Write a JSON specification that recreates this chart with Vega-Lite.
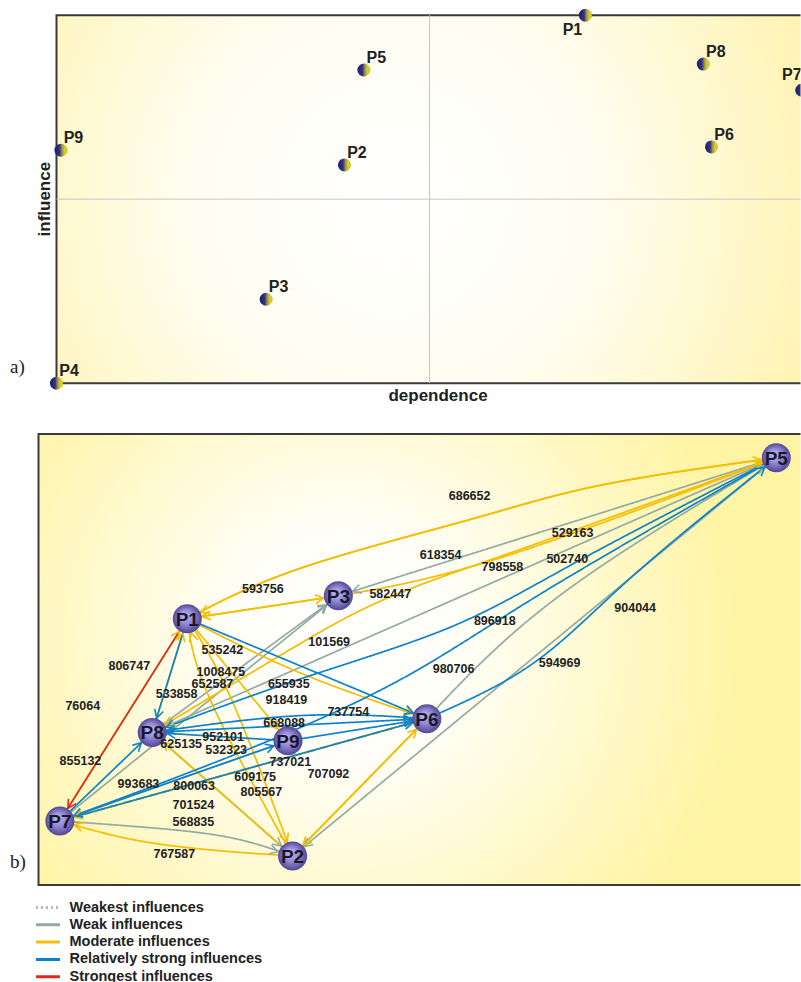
{
  "$schema": "https://vega.github.io/schema/vega-lite/v6.json",
  "background": "#ffffff",
  "padding": {"left": 9.5, "top": 8, "right": 0, "bottom": 0},
  "spacing": 28,
  "config": {"view": {"stroke": null}, "font": "Liberation Sans"},
  "resolve": {"scale": {"color": "independent", "strokeDash": "independent", "stroke": "independent"}},
  "datasets": {
    "nodesA": [
      {"id": "P1", "dep": 70.9, "inf": 100},
      {"id": "P2", "dep": 38.6, "inf": 59.3},
      {"id": "P3", "dep": 28.1, "inf": 22.8},
      {"id": "P4", "dep": 0, "inf": 0},
      {"id": "P5", "dep": 41.2, "inf": 85.1},
      {"id": "P6", "dep": 87.8, "inf": 64.2},
      {"id": "P7", "dep": 99.9, "inf": 79.6},
      {"id": "P8", "dep": 86.7, "inf": 86.7},
      {"id": "P9", "dep": 0.6, "inf": 63.3}
    ],
    "nodesB": [
      {"id": "P1", "x": 19.5, "y": 34.9},
      {"id": "P2", "x": 33.3, "y": 3.8},
      {"id": "P3", "x": 39.3, "y": 37.9},
      {"id": "P5", "x": 96.7, "y": 56.0},
      {"id": "P6", "x": 50.9, "y": 21.8},
      {"id": "P7", "x": 2.8, "y": 8.4},
      {"id": "P8", "x": 14.9, "y": 20.0},
      {"id": "P9", "x": 32.7, "y": 18.9}
    ],
    "edges": [
      {"e": "e1", "s": "P5", "t": "P3", "c": "Weak influences", "v": "618354", "lx": 52.7, "ly": 43.3},
      {"e": "e2", "s": "P5", "t": "P8", "c": "Weak influences", "v": "798558", "lx": 60.8, "ly": 41.7},
      {"e": "e3", "s": "P5", "t": "P2", "c": "Weak influences", "v": "594969", "lx": 68.3, "ly": 29.1},
      {"e": "e4", "s": "P6", "t": "P5", "c": "Weak influences", "v": "980706", "lx": 54.4, "ly": 28.3},
      {"e": "e5", "s": "P8", "t": "P3", "c": "Weak influences", "v": "1008475", "lx": 23.9, "ly": 27.9},
      {"e": "e6", "s": "P7", "t": "P3", "c": "Weak influences", "v": "652587", "lx": 22.8, "ly": 26.3},
      {"e": "e7", "s": "P8", "t": "P2", "c": "Weak influences", "v": "625135", "lx": 18.7, "ly": 18.5},
      {"e": "e8", "s": "P7", "t": "P2", "c": "Weak influences", "v": "568835", "lx": 20.3, "ly": 8.3},
      {"e": "e9", "s": "P9", "t": "P7", "c": "Weak influences"},
      {"e": "e11", "s": "P1", "t": "P5", "c": "Moderate influences", "v": "686652", "lx": 56.5, "ly": 51.0},
      {"e": "e12", "s": "P5", "t": "P1", "c": "Moderate influences"},
      {"e": "e13", "s": "P3", "t": "P5", "c": "Moderate influences", "v": "529163", "lx": 70.0, "ly": 46.1},
      {"e": "e14", "s": "P5", "t": "P8", "c": "Moderate influences", "v": "582447", "lx": 46.1, "ly": 38.1},
      {"e": "e15", "s": "P1", "t": "P3", "c": "Moderate influences", "v": "593756", "lx": 29.4, "ly": 38.8},
      {"e": "e16", "s": "P3", "t": "P1", "c": "Moderate influences", "v": "101569", "lx": 38.1, "ly": 31.8},
      {"e": "e17", "s": "P7", "t": "P1", "c": "Moderate influences", "v": "806747", "lx": 11.9, "ly": 28.7},
      {"e": "e18", "s": "P8", "t": "P1", "c": "Moderate influences", "v": "533858", "lx": 18.1, "ly": 25.0},
      {"e": "e20", "s": "P1", "t": "P6", "c": "Moderate influences", "v": "535242", "lx": 24.1, "ly": 30.8},
      {"e": "e21", "s": "P1", "t": "P9", "c": "Moderate influences", "v": "668088", "lx": 32.2, "ly": 21.2},
      {"e": "e22", "s": "P1", "t": "P2", "c": "Moderate influences", "v": "609175", "lx": 28.4, "ly": 14.2},
      {"e": "e23", "s": "P2", "t": "P1", "c": "Moderate influences", "v": "805567", "lx": 29.2, "ly": 12.2},
      {"e": "e24", "s": "P2", "t": "P8", "c": "Moderate influences", "v": "800063", "lx": 20.4, "ly": 13.0},
      {"e": "e25", "s": "P7", "t": "P6", "c": "Moderate influences", "v": "701524", "lx": 20.3, "ly": 10.5},
      {"e": "e26", "s": "P2", "t": "P6", "c": "Moderate influences", "v": "707092", "lx": 38.0, "ly": 14.5},
      {"e": "e27", "s": "P6", "t": "P2", "c": "Moderate influences"},
      {"e": "e28", "s": "P2", "t": "P7", "c": "Moderate influences", "v": "767587", "lx": 17.8, "ly": 4.1},
      {"e": "e29", "s": "P6", "t": "P7", "c": "Moderate influences"},
      {"e": "e30", "s": "P1", "t": "P8", "c": "Relatively strong influences"},
      {"e": "e31", "s": "P1", "t": "P6", "c": "Relatively strong influences", "v": "655935", "lx": 32.8, "ly": 26.3},
      {"e": "e34", "s": "P5", "t": "P8", "c": "Relatively strong influences", "v": "502740", "lx": 69.3, "ly": 42.7},
      {"e": "e35", "s": "P5", "t": "P7", "c": "Relatively strong influences", "v": "896918", "lx": 59.8, "ly": 34.6},
      {"e": "e36", "s": "P6", "t": "P5", "c": "Relatively strong influences", "v": "904044", "lx": 78.2, "ly": 36.3},
      {"e": "e37", "s": "P6", "t": "P8", "c": "Relatively strong influences", "v": "737754", "lx": 40.6, "ly": 22.7},
      {"e": "e38", "s": "P9", "t": "P8", "c": "Relatively strong influences", "v": "952101", "lx": 24.2, "ly": 19.4},
      {"e": "e39", "s": "P8", "t": "P6", "c": "Relatively strong influences", "v": "918419", "lx": 32.5, "ly": 24.2},
      {"e": "e40", "s": "P9", "t": "P6", "c": "Relatively strong influences", "v": "737021", "lx": 33.0, "ly": 16.1},
      {"e": "e41", "s": "P7", "t": "P6", "c": "Relatively strong influences", "v": "993683", "lx": 13.1, "ly": 13.2},
      {"e": "e42", "s": "P7", "t": "P9", "c": "Relatively strong influences", "v": "532323", "lx": 24.6, "ly": 17.7},
      {"e": "e43", "s": "P7", "t": "P8", "c": "Relatively strong influences", "v": "855132", "lx": 5.5, "ly": 16.3},
      {"e": "e44", "s": "P1", "t": "P7", "c": "Strongest influences", "v": "76064", "lx": 5.8, "ly": 23.5}
    ],
    "paths": [
      {"e": "e1", "o": 0, "x": 96.7, "y": 56.0}, {"e": "e1", "o": 1, "x": 39.3, "y": 37.9},
      {"e": "e2", "o": 0, "x": 96.7, "y": 56.0}, {"e": "e2", "o": 1, "x": 14.9, "y": 20.0},
      {"e": "e3", "o": 0, "x": 96.7, "y": 56.0}, {"e": "e3", "o": 1, "x": 33.3, "y": 3.8},
      {"e": "e4", "o": 0, "x": 50.9, "y": 21.8}, {"e": "e4", "o": 1, "x": 68.4, "y": 38.0}, {"e": "e4", "o": 2, "x": 96.7, "y": 56.0},
      {"e": "e5", "o": 0, "x": 14.9, "y": 20.0}, {"e": "e5", "o": 1, "x": 39.3, "y": 37.9},
      {"e": "e6", "o": 0, "x": 2.8, "y": 8.4}, {"e": "e6", "o": 1, "x": 39.3, "y": 37.9},
      {"e": "e7", "o": 0, "x": 14.9, "y": 20.0}, {"e": "e7", "o": 1, "x": 33.3, "y": 3.8},
      {"e": "e8", "o": 0, "x": 2.8, "y": 8.4}, {"e": "e8", "o": 1, "x": 14.7, "y": 7.5}, {"e": "e8", "o": 2, "x": 25.2, "y": 6.2}, {"e": "e8", "o": 3, "x": 33.3, "y": 3.8},
      {"e": "e9", "o": 0, "x": 32.7, "y": 18.9}, {"e": "e9", "o": 1, "x": 2.8, "y": 8.4},
      {"e": "e11", "o": 0, "x": 19.5, "y": 34.9}, {"e": "e11", "o": 1, "x": 34.3, "y": 41.5}, {"e": "e11", "o": 2, "x": 56.2, "y": 47.8}, {"e": "e11", "o": 3, "x": 73.7, "y": 52.4}, {"e": "e11", "o": 4, "x": 96.7, "y": 56.0},
      {"e": "e12", "o": 0, "x": 96.7, "y": 56.0}, {"e": "e12", "o": 1, "x": 73.7, "y": 52.4}, {"e": "e12", "o": 2, "x": 56.2, "y": 47.8}, {"e": "e12", "o": 3, "x": 34.3, "y": 41.5}, {"e": "e12", "o": 4, "x": 19.5, "y": 34.9},
      {"e": "e13", "o": 0, "x": 39.3, "y": 37.9}, {"e": "e13", "o": 1, "x": 60.6, "y": 42.9}, {"e": "e13", "o": 2, "x": 96.7, "y": 56.0},
      {"e": "e14", "o": 0, "x": 96.7, "y": 56.0}, {"e": "e14", "o": 1, "x": 75.0, "y": 48.2}, {"e": "e14", "o": 2, "x": 59.2, "y": 42.6}, {"e": "e14", "o": 3, "x": 44.8, "y": 37.2}, {"e": "e14", "o": 4, "x": 31.7, "y": 30.1}, {"e": "e14", "o": 5, "x": 14.9, "y": 20.0},
      {"e": "e15", "o": 0, "x": 19.5, "y": 34.9}, {"e": "e15", "o": 1, "x": 39.3, "y": 37.9},
      {"e": "e16", "o": 0, "x": 39.3, "y": 37.9}, {"e": "e16", "o": 1, "x": 19.5, "y": 34.9},
      {"e": "e17", "o": 0, "x": 2.8, "y": 8.4}, {"e": "e17", "o": 1, "x": 19.5, "y": 34.9},
      {"e": "e18", "o": 0, "x": 14.9, "y": 20.0}, {"e": "e18", "o": 1, "x": 19.5, "y": 34.9},
      {"e": "e20", "o": 0, "x": 19.5, "y": 34.9}, {"e": "e20", "o": 1, "x": 34.3, "y": 27.8}, {"e": "e20", "o": 2, "x": 50.9, "y": 21.8},
      {"e": "e21", "o": 0, "x": 19.5, "y": 34.9}, {"e": "e21", "o": 1, "x": 32.7, "y": 18.9},
      {"e": "e22", "o": 0, "x": 19.5, "y": 34.9}, {"e": "e22", "o": 1, "x": 25.3, "y": 24.3}, {"e": "e22", "o": 2, "x": 33.3, "y": 3.8},
      {"e": "e23", "o": 0, "x": 33.3, "y": 3.8}, {"e": "e23", "o": 1, "x": 22.5, "y": 24.3}, {"e": "e23", "o": 2, "x": 19.5, "y": 34.9},
      {"e": "e24", "o": 0, "x": 33.3, "y": 3.8}, {"e": "e24", "o": 1, "x": 14.9, "y": 20.0},
      {"e": "e25", "o": 0, "x": 2.8, "y": 8.4}, {"e": "e25", "o": 1, "x": 50.9, "y": 21.8},
      {"e": "e26", "o": 0, "x": 33.3, "y": 3.8}, {"e": "e26", "o": 1, "x": 50.9, "y": 21.8},
      {"e": "e27", "o": 0, "x": 50.9, "y": 21.8}, {"e": "e27", "o": 1, "x": 33.3, "y": 3.8},
      {"e": "e28", "o": 0, "x": 33.3, "y": 3.8}, {"e": "e28", "o": 1, "x": 22.5, "y": 4.6}, {"e": "e28", "o": 2, "x": 12.1, "y": 6.0}, {"e": "e28", "o": 3, "x": 2.8, "y": 8.4},
      {"e": "e29", "o": 0, "x": 50.9, "y": 21.8}, {"e": "e29", "o": 1, "x": 2.8, "y": 8.4},
      {"e": "e30", "o": 0, "x": 19.5, "y": 34.9}, {"e": "e30", "o": 1, "x": 14.9, "y": 20.0},
      {"e": "e31", "o": 0, "x": 19.5, "y": 34.9}, {"e": "e31", "o": 1, "x": 50.9, "y": 21.8},
      {"e": "e34", "o": 0, "x": 96.7, "y": 56.0}, {"e": "e34", "o": 1, "x": 71.0, "y": 42.6}, {"e": "e34", "o": 2, "x": 54.0, "y": 33.8}, {"e": "e34", "o": 3, "x": 34.3, "y": 27.0}, {"e": "e34", "o": 4, "x": 14.9, "y": 20.0},
      {"e": "e35", "o": 0, "x": 96.7, "y": 56.0}, {"e": "e35", "o": 1, "x": 66.7, "y": 38.7}, {"e": "e35", "o": 2, "x": 47.4, "y": 26.9}, {"e": "e35", "o": 3, "x": 26.5, "y": 17.4}, {"e": "e35", "o": 4, "x": 2.8, "y": 8.4},
      {"e": "e36", "o": 0, "x": 50.9, "y": 21.8}, {"e": "e36", "o": 1, "x": 64.9, "y": 29.1}, {"e": "e36", "o": 2, "x": 78.0, "y": 40.6}, {"e": "e36", "o": 3, "x": 96.7, "y": 56.0},
      {"e": "e37", "o": 0, "x": 50.9, "y": 21.8}, {"e": "e37", "o": 1, "x": 34.3, "y": 22.2}, {"e": "e37", "o": 2, "x": 14.9, "y": 20.0},
      {"e": "e38", "o": 0, "x": 32.7, "y": 18.9}, {"e": "e38", "o": 1, "x": 14.9, "y": 20.0},
      {"e": "e39", "o": 0, "x": 14.9, "y": 20.0}, {"e": "e39", "o": 1, "x": 50.9, "y": 21.8},
      {"e": "e40", "o": 0, "x": 32.7, "y": 18.9}, {"e": "e40", "o": 1, "x": 50.9, "y": 21.8},
      {"e": "e41", "o": 0, "x": 2.8, "y": 8.4}, {"e": "e41", "o": 1, "x": 50.9, "y": 21.8},
      {"e": "e42", "o": 0, "x": 2.8, "y": 8.4}, {"e": "e42", "o": 1, "x": 32.7, "y": 18.9},
      {"e": "e43", "o": 0, "x": 2.8, "y": 8.4}, {"e": "e43", "o": 1, "x": 14.9, "y": 20.0},
      {"e": "e44", "o": 0, "x": 19.5, "y": 34.9}, {"e": "e44", "o": 1, "x": 2.8, "y": 8.4}
    ]
  },
  "vconcat": [
    {
      "width": 764,
      "height": 372,
      "layer": [
        {
          "data": {"values": [{}]},
          "mark": {
            "type": "rect", "clip": true, "stroke": "#3a3a3a", "strokeWidth": 2,
            "fill": {"gradient": "radial", "x1": 0.45, "y1": 0.5, "r1": 0, "x2": 0.45, "y2": 0.5, "r2": 0.62,
              "stops": [{"offset": 0, "color": "#ffffff"}, {"offset": 0.45, "color": "#fffdf0"}, {"offset": 1, "color": "#fff3ad"}]}
          },
          "encoding": {
            "x": {"datum": 0, "type": "quantitative", "scale": {"domain": [-2.681, 99.732], "nice": false, "zero": false}, "axis": null},
            "x2": {"datum": 100.4},
            "y": {"datum": 0, "type": "quantitative", "scale": {"domain": [-0.5, 100.587], "nice": false, "zero": false}, "axis": null},
            "y2": {"datum": 100}
          }
        },
        {
          "data": {"values": [{}]},
          "mark": {"type": "rule", "color": "#c6c6c6", "strokeWidth": 1},
          "encoding": {
            "x": {"datum": 50, "type": "quantitative"},
            "y": {"datum": 0, "type": "quantitative"},
            "y2": {"datum": 100}
          }
        },
        {
          "data": {"values": [{}]},
          "mark": {"type": "rule", "color": "#c6c6c6", "strokeWidth": 1, "clip": true},
          "encoding": {
            "x": {"datum": 0, "type": "quantitative"},
            "x2": {"datum": 100.4},
            "y": {"datum": 50, "type": "quantitative"}
          }
        },
        {
          "data": {"name": "nodesA"},
          "transform": [{"filter": "datum.id !== 'P7'"}],
          "mark": {
            "type": "point", "shape": "circle", "filled": true, "size": 169, "opacity": 1,
            "fill": {"gradient": "linear", "x1": 0, "y1": 0.5, "x2": 1, "y2": 0.5,
              "stops": [{"offset": 0, "color": "#1c1c74"}, {"offset": 0.4, "color": "#34347c"}, {"offset": 0.58, "color": "#9a9250"}, {"offset": 0.8, "color": "#e0d22a"}, {"offset": 1, "color": "#c9bb2a"}]}
          },
          "encoding": {
            "x": {"field": "dep", "type": "quantitative"},
            "y": {"field": "inf", "type": "quantitative"}
          }
        },
        {
          "data": {"name": "nodesA"},
          "transform": [{"filter": "datum.id === 'P7'"}],
          "mark": {
            "type": "point", "shape": "circle", "filled": true, "size": 169, "opacity": 1, "clip": true,
            "fill": {"gradient": "linear", "x1": 0, "y1": 0.5, "x2": 1, "y2": 0.5,
              "stops": [{"offset": 0, "color": "#1c1c74"}, {"offset": 0.4, "color": "#34347c"}, {"offset": 0.58, "color": "#9a9250"}, {"offset": 0.8, "color": "#e0d22a"}, {"offset": 1, "color": "#c9bb2a"}]}
          },
          "encoding": {
            "x": {"field": "dep", "type": "quantitative"},
            "y": {"field": "inf", "type": "quantitative"}
          }
        },
        {
          "data": {"name": "nodesA"},
          "transform": [{"filter": "datum.id !== 'P7' && datum.id !== 'P1'"}],
          "mark": {"type": "text", "dx": 12.5, "dy": -12, "fontSize": 16, "fontWeight": "bold", "color": "#222222"},
          "encoding": {
            "x": {"field": "dep", "type": "quantitative"},
            "y": {"field": "inf", "type": "quantitative"},
            "text": {"field": "id", "type": "nominal"}
          }
        },
        {
          "data": {"name": "nodesA"},
          "transform": [{"filter": "datum.id === 'P1'"}],
          "mark": {"type": "text", "dx": -13, "dy": 15, "fontSize": 16, "fontWeight": "bold", "color": "#222222"},
          "encoding": {
            "x": {"field": "dep", "type": "quantitative"},
            "y": {"field": "inf", "type": "quantitative"},
            "text": {"field": "id", "type": "nominal"}
          }
        },
        {
          "data": {"name": "nodesA"},
          "transform": [{"filter": "datum.id === 'P7'"}],
          "mark": {"type": "text", "dx": -10, "dy": -15, "fontSize": 16, "fontWeight": "bold", "color": "#222222", "clip": true},
          "encoding": {
            "x": {"field": "dep", "type": "quantitative"},
            "y": {"field": "inf", "type": "quantitative"},
            "text": {"field": "id", "type": "nominal"}
          }
        },
        {
          "data": {"values": [{}]},
          "mark": {"type": "text", "text": "influence", "angle": 270, "fontSize": 17, "fontWeight": "bold", "color": "#222222"},
          "encoding": {
            "x": {"datum": -1.475, "type": "quantitative"},
            "y": {"datum": 50, "type": "quantitative"}
          }
        },
        {
          "data": {"values": [{}]},
          "mark": {"type": "text", "text": "dependence", "fontSize": 17, "fontWeight": "bold", "color": "#222222"},
          "encoding": {
            "x": {"datum": 51.14, "type": "quantitative"},
            "y": {"datum": -3.45, "type": "quantitative"}
          }
        },
        {
          "data": {"values": [{}]},
          "mark": {"type": "text", "text": "a)", "align": "left", "font": "Liberation Serif", "fontSize": 19, "color": "#222222"},
          "encoding": {
            "x": {"datum": -6.233, "type": "quantitative"},
            "y": {"datum": 4.43, "type": "quantitative"}
          }
        }
      ]
    },
    {
      "width": 764,
      "height": 455,
      "layer": [
        {
          "data": {"values": [{}]},
          "mark": {
            "type": "rect", "clip": true, "stroke": "#3a3a3a", "strokeWidth": 2,
            "fill": {"gradient": "radial", "x1": 0.4, "y1": 0.48, "r1": 0, "x2": 0.4, "y2": 0.48, "r2": 0.52,
              "stops": [{"offset": 0, "color": "#ffffff"}, {"offset": 0.3, "color": "#fffef6"}, {"offset": 1, "color": "#fff4a4"}]}
          },
          "encoding": {
            "x": {"datum": 0, "type": "quantitative", "scale": {"domain": [-0.262, 99.87], "nice": false, "zero": false}, "axis": null},
            "x2": {"datum": 100.5},
            "y": {"datum": 0, "type": "quantitative", "scale": {"domain": [-0.262, 59.37], "nice": false, "zero": false}, "axis": null},
            "y2": {"datum": 59.1}
          }
        },
        {
          "data": {"name": "paths"},
          "transform": [{"lookup": "e", "from": {"data": {"name": "edges"}, "key": "e", "fields": ["c"]}}],
          "mark": {"type": "line", "interpolate": "natural", "strokeWidth": 1.7},
          "encoding": {
            "x": {"field": "x", "type": "quantitative"},
            "y": {"field": "y", "type": "quantitative"},
            "order": {"field": "o", "type": "quantitative"},
            "detail": {"field": "e", "type": "nominal"},
            "color": {
              "field": "c", "type": "nominal",
              "scale": {
                "domain": ["Weakest influences", "Weak influences", "Moderate influences", "Relatively strong influences", "Strongest influences"],
                "range": ["#a9bfb8", "#92aba4", "#f5bd00", "#0b83cc", "#dc2a1e"]
              },
              "legend": {
                "orient": "none", "legendX": -2, "legendY": 468, "title": null, "direction": "vertical",
                "symbolType": "stroke", "symbolSize": 576, "symbolStrokeWidth": 3,
                "labelFont": "Liberation Sans", "labelFontSize": 14.5, "labelFontWeight": "bold", "labelColor": "#222222",
                "labelOffset": 8, "rowPadding": 1.3, "clipHeight": 15, "padding": 0, "labelLimit": 400
              }
            },
            "strokeDash": {
              "field": "c", "type": "nominal",
              "scale": {
                "domain": ["Weakest influences", "Weak influences", "Moderate influences", "Relatively strong influences", "Strongest influences"],
                "range": [[2, 3], [1, 0], [1, 0], [1, 0], [1, 0]]
              },
              "legend": {
                "orient": "none", "legendX": -2, "legendY": 468, "title": null, "direction": "vertical",
                "symbolType": "stroke", "symbolSize": 576, "symbolStrokeWidth": 3,
                "labelFont": "Liberation Sans", "labelFontSize": 14.5, "labelFontWeight": "bold", "labelColor": "#222222",
                "labelOffset": 8, "rowPadding": 1.3, "clipHeight": 15, "padding": 0, "labelLimit": 400
              }
            }
          }
        },
        {
          "data": {"name": "paths"},
          "transform": [
            {"lookup": "e", "from": {"data": {"name": "edges"}, "key": "e", "fields": ["c"]}},
            {"window": [{"op": "lag", "field": "x", "as": "px"}, {"op": "lag", "field": "y", "as": "py"}], "groupby": ["e"], "sort": [{"field": "o", "order": "ascending"}]},
            {"joinaggregate": [{"op": "max", "field": "o", "as": "last"}], "groupby": ["e"]},
            {"filter": "datum.o === datum.last"},
            {"calculate": "atan2(datum.py - datum.y, datum.x - datum.px) * 180 / PI", "as": "ang"}
          ],
          "mark": {"type": "point", "shape": "M -1.55 -0.3 L -1 0 L -1.55 0.3", "size": 900, "filled": false, "strokeWidth": 1.6, "opacity": 1},
          "encoding": {
            "x": {"field": "x", "type": "quantitative"},
            "y": {"field": "y", "type": "quantitative"},
            "angle": {"field": "ang", "type": "quantitative", "scale": null},
            "stroke": {
              "field": "c", "type": "nominal", "legend": null,
              "scale": {
                "domain": ["Weakest influences", "Weak influences", "Moderate influences", "Relatively strong influences", "Strongest influences"],
                "range": ["#a9bfb8", "#92aba4", "#f5bd00", "#0b83cc", "#dc2a1e"]
              }
            }
          }
        },
        {
          "data": {"name": "nodesB"},
          "mark": {
            "type": "point", "shape": "circle", "filled": true, "size": 841, "opacity": 1,
            "fill": {"gradient": "radial", "x1": 0.42, "y1": 0.38, "r1": 0.02, "x2": 0.5, "y2": 0.5, "r2": 0.5,
              "stops": [{"offset": 0, "color": "#c4bdf2"}, {"offset": 0.55, "color": "#8a7fcf"}, {"offset": 1, "color": "#524794"}]}
          },
          "encoding": {
            "x": {"field": "x", "type": "quantitative"},
            "y": {"field": "y", "type": "quantitative"}
          }
        },
        {
          "data": {"name": "nodesB"},
          "mark": {"type": "text", "fontSize": 19, "fontWeight": "bold", "color": "#181828", "dy": 1},
          "encoding": {
            "x": {"field": "x", "type": "quantitative"},
            "y": {"field": "y", "type": "quantitative"},
            "text": {"field": "id", "type": "nominal"}
          }
        },
        {
          "data": {"name": "edges"},
          "transform": [{"filter": "isValid(datum.v)"}],
          "mark": {"type": "text", "fontSize": 12.5, "fontWeight": "bold", "color": "#222222"},
          "encoding": {
            "x": {"field": "lx", "type": "quantitative"},
            "y": {"field": "ly", "type": "quantitative"},
            "text": {"field": "v", "type": "nominal"}
          }
        },
        {
          "data": {"values": [{}]},
          "mark": {"type": "text", "text": "b)", "align": "left", "font": "Liberation Serif", "fontSize": 19, "color": "#222222"},
          "encoding": {
            "x": {"datum": -3.735, "type": "quantitative"},
            "y": {"datum": 3.01, "type": "quantitative"}
          }
        }
      ]
    }
  ]
}
